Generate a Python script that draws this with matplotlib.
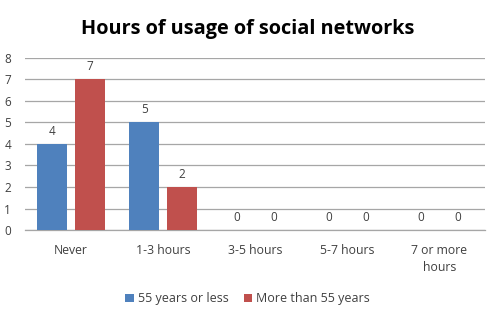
import numpy as np
import matplotlib
matplotlib.use('Agg')
import matplotlib.pyplot as plt

plt.rcParams['font.family'] = ['Open Sans', 'DejaVu Sans']

# Données
categories = ['Never', '1-3 hours', '3-5 hours', '5-7 hours', '7 or more\nhours']
series_names = ['55 years or less', 'More than 55 years']
young = [4, 5, 0, 0, 0]
old = [7, 2, 0, 0, 0]
colors = ['#4F81BD', '#C0504D']

fig = plt.figure(figsize=(4.95, 3.13), dpi=100)
ax = fig.add_axes([0.0505, 0.265, 0.93, 0.55])

x = np.arange(len(categories))
width = 0.32
off = 0.205

b1 = ax.bar(x - off, young, width, color=colors[0], label=series_names[0], zorder=3)
b2 = ax.bar(x + off, old, width, color=colors[1], label=series_names[1], zorder=3)

for bars in (b1, b2):
    for rect in bars:
        h = rect.get_height()
        ax.text(rect.get_x() + rect.get_width() / 2, h + 0.3, f'{int(h)}',
                ha='center', va='bottom', fontsize=8.5, color='#404040')

ax.set_xlim(-0.5, len(categories) - 0.5)
ax.set_ylim(0, 8)
ax.set_yticks(range(0, 9))
ax.set_xticks(x)
ax.set_xticklabels(categories, fontsize=8.8, color='#404040', linespacing=1.45)
ax.tick_params(axis='y', labelsize=8.5, labelcolor='#404040', length=0, pad=10)
ax.tick_params(axis='x', length=0, pad=10)
ax.grid(axis='y', color='#A6A6A6', linewidth=0.9, zorder=0)
for s in ['top', 'right', 'left']:
    ax.spines[s].set_visible(False)
ax.spines['bottom'].set_color('#A6A6A6')
ax.spines['bottom'].set_linewidth(0.9)

fig.suptitle('Hours of usage of social networks', fontsize=14.3, fontweight='bold', y=0.94)

fig.legend(loc='center', bbox_to_anchor=(0.5, 0.045), ncol=2, frameon=False,
           fontsize=9, handlelength=0.7, handleheight=0.7, handletextpad=0.3,
           columnspacing=1.2, labelcolor='#404040')

fig.savefig('out.png', dpi=100)
